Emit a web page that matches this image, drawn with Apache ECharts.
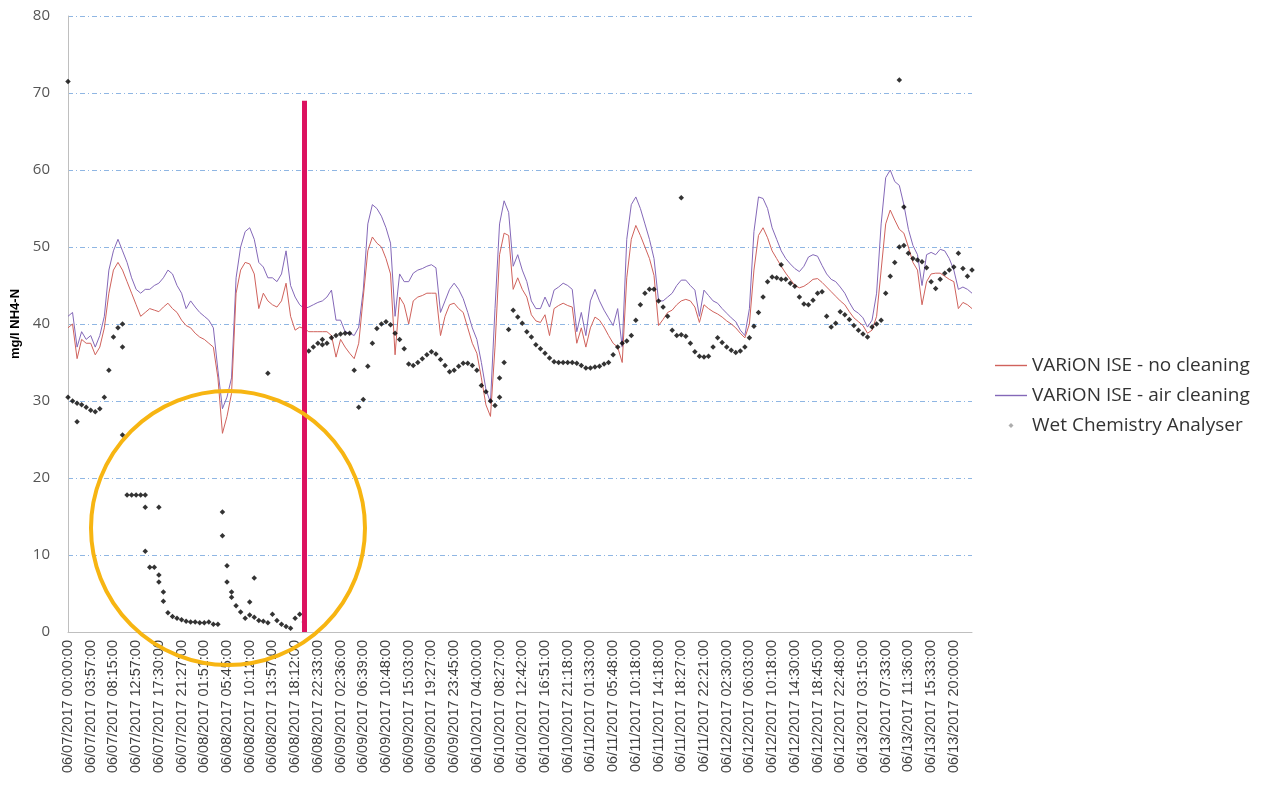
<!DOCTYPE html>
<html>
<head>
<meta charset="utf-8">
<title>NH4-N comparison</title>
<script src="https://cdn.jsdelivr.net/npm/echarts@6/dist/echarts.min.js"></script>
<style>
    html, body { margin: 0; padding: 0; background: #fff; }
    #chart { width: 1267px; height: 785px; }
</style>
</head>
<body>
<div id="chart"></div>
<script>
// tick labels, one every 5 samples
var tickLabels = [
    '06/07/2017 00:00:00', '06/07/2017 03:57:00', '06/07/2017 08:15:00', '06/07/2017 12:57:00',
    '06/07/2017 17:30:00', '06/07/2017 21:27:00', '06/08/2017 01:51:00', '06/08/2017 05:45:00',
    '06/08/2017 10:12:00', '06/08/2017 13:57:00', '06/08/2017 18:12:00', '06/08/2017 22:33:00',
    '06/09/2017 02:36:00', '06/09/2017 06:39:00', '06/09/2017 10:48:00', '06/09/2017 15:03:00',
    '06/09/2017 19:27:00', '06/09/2017 23:45:00', '06/10/2017 04:00:00', '06/10/2017 08:27:00',
    '06/10/2017 12:42:00', '06/10/2017 16:51:00', '06/10/2017 21:18:00', '06/11/2017 01:33:00',
    '06/11/2017 05:48:00', '06/11/2017 10:18:00', '06/11/2017 14:18:00', '06/11/2017 18:27:00',
    '06/11/2017 22:21:00', '06/12/2017 02:30:00', '06/12/2017 06:03:00', '06/12/2017 10:18:00',
    '06/12/2017 14:30:00', '06/12/2017 18:45:00', '06/12/2017 22:48:00', '06/13/2017 03:15:00',
    '06/13/2017 07:33:00', '06/13/2017 11:36:00', '06/13/2017 15:33:00', '06/13/2017 20:00:00'
];
var samplesPerTick = 5;
var sampleCount = 200;

// VARiON ISE - no cleaning
var noCleaning = [
    39.5, 40, 35.5, 38, 37.5, 37.5, 36, 37, 39.5, 44,
    47, 48, 47, 45.5, 44, 42.5, 41, 41.5, 42, 41.8,
    41.6, 42.2, 42.7, 42, 41.5, 40.5, 39.8, 39.5, 38.8, 38.3,
    38, 37.5, 37, 33, 25.8, 28, 31, 44, 47, 48,
    47.8, 46.5, 42, 44, 43, 42.5, 42.2, 43, 45.3, 41,
    39.2, 39.6, 39.4, 39, 39, 39, 39, 39, 38.5, 35.7,
    38, 37, 36.2, 35.5, 37.5, 43.5, 49.5, 51.3, 50.5, 50,
    48.5, 46.5, 36, 43.5, 42.5, 40, 43, 43.5, 43.7, 44,
    44, 44, 38.5, 41, 42.5, 42.7, 42, 41.5, 39.5, 37.5,
    36.2, 33, 29.5, 28, 37, 49, 51.8, 51.5, 44.5, 46,
    44.5, 43.5, 41.2, 40.4, 40.2, 41.2, 38.5, 42, 42.4, 42.7,
    42.4, 42.2, 37.5, 39.5, 37, 39.5, 40.9, 40.5, 39.6, 38.5,
    37.5, 37, 35, 46, 51, 52.8, 51.5, 50, 48.5, 46.3,
    39.8, 40.6, 41.5, 41.8, 42.5, 43, 43.2, 43, 42.2, 40.2,
    42.5, 42, 41.6, 41.3, 40.9, 40.4, 40, 39.5, 38.8, 38.2,
    40, 47, 51.5, 52.5, 51.2, 49.5, 48.5, 47.5, 46.6, 45.8,
    45, 44.7, 44.9, 45.3, 45.8, 45.9, 45.4, 44.8, 44.2, 43.6,
    43, 42.5, 41.6, 40.8, 40.3, 39.8, 38.8, 39.2, 41, 47,
    53, 54.8, 53.5, 52.3, 51.8, 50, 48, 47, 42.5, 45.5,
    46.5, 46.6, 46.6, 46.2, 45.8, 45.5, 42, 42.8, 42.5, 42
];

// VARiON ISE - air cleaning
var airCleaning = [
    41, 41.5, 37, 39, 38, 38.5, 37, 38.5, 41, 47,
    49.5, 51, 49.5, 48, 46, 44.5, 44, 44.5, 44.5, 45,
    45.3, 46, 47, 46.5, 45, 44, 42, 43, 42.2, 41.5,
    41, 40.5, 39.5, 34, 29, 30.5, 33, 46, 50, 52,
    52.5, 51, 48, 47.4, 46, 46, 45.5, 46.5, 49.5, 45,
    43.5, 42.5, 42, 42.2, 42.5, 42.8, 43, 43.5, 44.4, 40.5,
    40.5, 39, 38.8, 38.5, 39.6, 44.4, 53, 55.5, 55, 54,
    52.5, 50.5, 41, 46.5, 45.5, 45.5, 46.6, 47, 47.2, 47.5,
    47.7, 47.3, 41.5, 43, 44.5, 45.3, 44.5, 43.3, 41.5, 39.5,
    38, 35, 31.5, 29.8, 42, 53, 56, 54.5, 47.5, 49,
    47, 45.5, 43, 42, 42, 43.5, 42.2, 44.4, 44.8, 45.3,
    45, 44.5, 39, 41.5, 38.5, 43, 44.5, 43, 41.8, 40.8,
    39.8, 42, 37, 51, 55.5, 56.5, 55, 53, 51, 48.5,
    43, 43, 43.5, 44, 45, 45.7, 45.7, 45, 44.4, 41,
    44.4, 43.7, 43, 42.7, 42, 41.4, 40.8, 40.3, 39.2, 38.5,
    42, 52, 56.5, 56.3, 55, 52.5, 51, 49.5, 48.5, 47.8,
    47.2, 46.8, 47.5, 48.7, 49, 48.8, 47.6, 46.5, 45.8, 45.5,
    44.8, 44, 42.8, 41.8, 41.4, 40.8, 39.6, 40.5, 44, 53,
    59, 60, 58.5, 58, 55.5, 52.3, 50.2, 49, 45, 49,
    49.3, 49, 49.7, 49.5, 48.5, 47, 44.5, 44.8, 44.5, 44
];

// Wet Chemistry Analyser, one reading per sample
var wetChem = [
    30.5, 30, 29.7, 29.5, 29.2, 28.8, 28.6, 29, 30.5, 34,
    38.3, 39.5, 40, 17.8, 17.8, 17.8, 17.8, 17.8, 8.4, 8.4,
    6.5, 4, 2.5, 2, 1.8, 1.6, 1.4, 1.3, 1.3, 1.2,
    1.2, 1.3, 1.0, 1.0, 15.6, 8.6, 4.5, 3.4, 2.6, 1.8,
    2.2, 1.9, 1.5, 1.4, 1.2, 2.3, 1.5, 1.0, 0.7, 0.5,
    1.8, 2.3, 1.3, 36.5, 37, 37.5, 38, 37.5, 38.2, 38.5,
    38.7, 38.8, 38.8, 34, 29.2, 30.2, 34.5, 37.5, 39.4, 40,
    40.3, 39.9, 38.8, 38, 36.8, 34.8, 34.6, 35, 35.5, 36,
    36.4, 36.1, 35.4, 34.6, 33.8, 34, 34.5, 34.9, 34.9, 34.6,
    34, 32, 31.2, 30, 29.4, 30.5, 35, 39.3, 41.8, 40.9,
    40.1, 39, 38.3, 37.3, 36.8, 36.2, 35.6, 35.1, 35, 35,
    35, 35, 34.9, 34.6, 34.3, 34.3, 34.4, 34.5, 34.8, 35,
    36, 37, 37.5, 37.8, 38.5, 40.5, 42.5, 44, 44.5, 44.5,
    43, 42.2, 41, 39.2, 38.5, 38.6, 38.4, 37.5, 36.4, 35.8,
    35.7, 35.8, 37, 38.2, 37.6, 37, 36.6, 36.3, 36.5, 37,
    38.2, 39.7, 41.5, 43.5, 45.5, 46.1, 46, 45.8, 45.8, 45.3,
    44.9, 43.5, 42.6, 42.5, 43.1, 44, 44.2, 41, 39.6, 40.1,
    41.6, 41.2, 40.6, 39.8, 39.2, 38.7, 38.3, 39.6, 40, 40.5,
    44, 46.2, 48, 50, 50.2, 49.2, 48.5, 48.3, 48.1, 47.3,
    45.5, 44.6, 45.8, 46.6, 47, 47.4, 49.2, 47.2, 46.2, 47
];

// extra analyser readings that share a sample slot: [sample index, value]
var wetChemExtra = [
    [0, 71.5], [2, 27.3], [12, 37], [12, 25.6], [17, 16.2], [17, 10.5],
    [20, 16.2], [20, 7.4], [21, 5.2], [34, 12.5], [35, 6.5], [36, 5.2],
    [40, 3.9], [41, 7.0], [44, 33.6], [56, 37.3], [95, 33], [135, 56.4],
    [157, 47.7], [183, 71.7], [184, 55.2]
];

// sample where the red marker line sits
var markerSample = 52;
var markerTop = 69;

window.onload = function () {
    chartInit();
}

function chartInit() {
    var myChart = echarts.init(document.getElementById('chart'));

    var categories = [];
    for (var i = 0; i < sampleCount; i++) {
        categories.push(String(i));
    }

    var lineIcon = 'path://M0,0h32v1.4h-32z';
    var dotIcon = 'path://M0,5L5,0L10,5L5,10Z';

    var option = {
        animation: false,
        backgroundColor: '#fff',
        grid: {
            left: 68,
            right: 295,
            top: 16,
            bottom: 153
        },
        legend: {
            orient: 'vertical',
            left: 995,
            top: 356,
            padding: 0,
            itemWidth: 32,
            itemHeight: 5,
            itemGap: 11,
            symbolKeepAspect: true,
            textStyle: {
                fontFamily: 'Open Sans',
                fontSize: 19,
                color: '#333'
            },
            data: [
                {name: 'VARiON ISE - no cleaning', icon: lineIcon},
                {name: 'VARiON ISE - air cleaning', icon: lineIcon},
                {name: 'Wet Chemistry Analyser', icon: dotIcon, itemStyle: {color: '#999'}}
            ]
        },
        xAxis: {
            type: 'category',
            boundaryGap: false,
            data: categories,
            axisLine: {lineStyle: {color: '#bfbfbf', width: 1}},
            axisTick: {show: false},
            axisLabel: {
                interval: samplesPerTick - 1,
                rotate: 90,
                margin: 8,
                fontFamily: 'Liberation Sans',
                fontSize: 14.5,
                color: '#404040',
                formatter: function (value, index) {
                    return tickLabels[index / samplesPerTick] || '';
                }
            },
            splitLine: {show: false}
        },
        yAxis: {
            type: 'value',
            min: 0,
            max: 80,
            interval: 10,
            name: 'mg/l NH4-N',
            nameLocation: 'middle',
            nameGap: 42,
            nameRotate: 90,
            nameTextStyle: {
                fontFamily: 'Liberation Sans',
                fontWeight: 'bold',
                fontSize: 13,
                color: '#000'
            },
            axisLine: {show: true, lineStyle: {color: '#bfbfbf', width: 1}},
            axisTick: {show: false},
            axisLabel: {
                margin: 18,
                fontFamily: 'Open Sans',
                fontSize: 15,
                color: '#555'
            },
            splitLine: {
                lineStyle: {
                    color: '#8fb6e3',
                    width: 1,
                    type: [5, 3, 1, 3]
                }
            }
        },
        series: [
            {
                name: 'VARiON ISE - no cleaning',
                type: 'line',
                data: noCleaning,
                symbol: 'none',
                color: '#d0625c',
                lineStyle: {width: 1},
                z: 3,
                markLine: {
                    silent: true,
                    symbol: 'none',
                    label: {show: false},
                    lineStyle: {color: '#dc1260', width: 5, type: 'solid'},
                    data: [[
                        {coord: [String(markerSample), 0]},
                        {coord: [String(markerSample), markerTop]}
                    ]],
                    z: 10
                }
            },
            {
                name: 'VARiON ISE - air cleaning',
                type: 'line',
                data: airCleaning,
                symbol: 'none',
                color: '#8468b8',
                lineStyle: {width: 1},
                z: 2
            },
            {
                name: 'Wet Chemistry Analyser',
                type: 'scatter',
                data: wetChem,
                symbol: 'diamond',
                symbolSize: 5.5,
                color: '#000',
                z: 4
            },
            {
                name: 'Wet Chemistry Analyser',
                type: 'scatter',
                data: wetChemExtra,
                symbol: 'diamond',
                symbolSize: 5.5,
                color: '#000',
                z: 4
            }
        ]
    };

    myChart.setOption(option);

    // highlight circle round the fouled-sensor period
    var centre = myChart.convertToPixel({gridIndex: 0}, ['35', 13.5]);
    myChart.setOption({
        graphic: [{
            type: 'circle',
            shape: {cx: centre[0] + 1, cy: centre[1], r: 137},
            style: {fill: 'none', stroke: '#f7b512', lineWidth: 4},
            silent: true,
            z: 100
        }]
    });
}
</script>
</body>
</html>
